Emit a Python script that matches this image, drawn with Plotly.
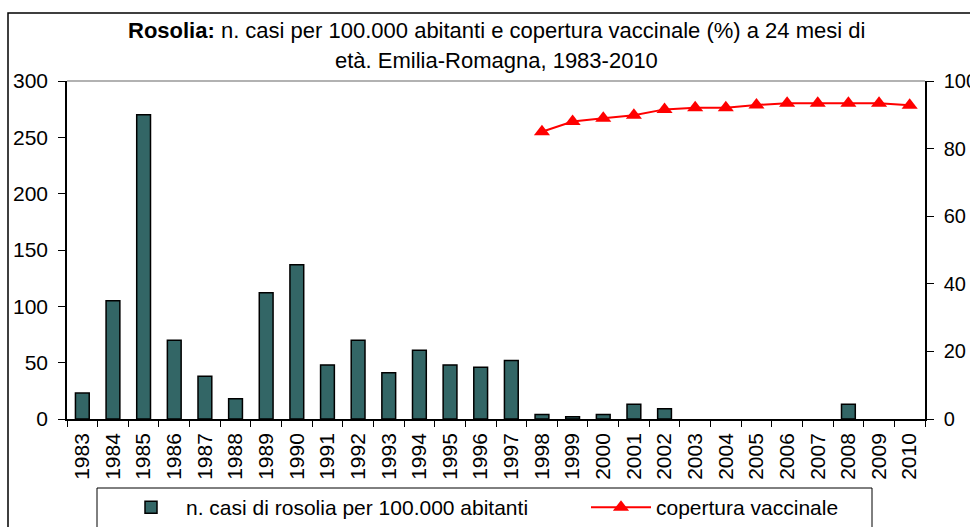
import plotly.graph_objects as go

years = [str(y) for y in range(1983, 2011)]
casi = [23, 105, 270, 70, 38, 18, 112, 137, 48, 70, 41, 61, 48, 46, 52,
        4, 2, 4, 13, 9, 0, 0, 0, 0, 0, 13, 0, 0]
copertura = [None] * 15 + [85, 88, 89, 89.9, 91.6, 92.1, 92.1, 92.9, 93.4, 93.4, 93.4, 93.4, 92.8]

bar_name = "n. casi di rosolia per 100.000 abitanti"
line_name = "copertura vaccinale"
title_line1 = "<b>Rosolia:</b> n. casi per 100.000 abitanti e copertura vaccinale (%) a 24 mesi di"
title_line2 = "età. Emilia-Romagna, 1983-2010"

FONT = "Liberation Sans, Arial, sans-serif"
W, H = 970, 527
L, R, T, B = 67, 45, 81, 108
pw, ph = W - L - R, H - T - B

def px_x(x):
    return (x - L) / pw

def px_y(y):
    return (H - B - y) / ph

fig = go.Figure()
fig.add_trace(go.Bar(
    x=years, y=casi, name=bar_name,
    marker=dict(color="#336666",
                line=dict(color="black", width=[1.5 if v > 0 else 0 for v in casi])),
    yaxis="y", legend="legend",
))
fig.add_trace(go.Scatter(
    x=years, y=copertura, name=line_name, mode="lines+markers",
    line=dict(color="#ff0000", width=2),
    marker=dict(symbol="triangle-up", size=14, color="#ff0000"),
    yaxis="y2", legend="legend2",
))

legend_common = dict(
    orientation="h", xanchor="left", yanchor="top", y=px_y(487),
    bgcolor="rgba(0,0,0,0)", borderwidth=0, font=dict(size=21), itemwidth=60,
)

fig.update_layout(
    width=W, height=H,
    margin=dict(l=L, r=R, t=T, b=B, pad=0, autoexpand=False),
    paper_bgcolor="white", plot_bgcolor="white",
    font=dict(family=FONT, size=20, color="black"),
    bargap=0.55,
    showlegend=True,
    legend=dict(x=px_x(116), **legend_common),
    legend2=dict(x=px_x(586), **legend_common),
    xaxis=dict(
        type="category", range=[-0.5, len(years) - 0.5],
        tickangle=-90, showline=True, linecolor="black", linewidth=1.5,
        ticks="outside", ticklen=6, tickcolor="black", tickson="boundaries",
        showgrid=False, tickfont=dict(size=21), automargin=False, ticklabelstandoff=4,
    ),
    yaxis=dict(
        range=[0, 300], dtick=50, showline=True, linecolor="black", linewidth=1.5,
        ticks="outside", ticklen=7, tickcolor="black", showgrid=False,
        zeroline=False, tickfont=dict(size=21), automargin=False, ticklabelstandoff=6,
    ),
    yaxis2=dict(
        range=[0, 100], dtick=20, overlaying="y", side="right",
        showline=True, linecolor="black", linewidth=1.5,
        ticks="outside", ticklen=7, tickcolor="black", showgrid=False,
        zeroline=False, tickfont=dict(size=20), automargin=False, ticklabelstandoff=6,
    ),
    shapes=[
        dict(type="line", xref="paper", yref="paper", x0=0, x1=1, y0=1, y1=1,
             line=dict(color="#999999", width=1.5)),
        dict(type="rect", xref="paper", yref="paper",
             x0=px_x(8), x1=px_x(1000), y0=px_y(580), y1=px_y(13),
             line=dict(color="black", width=1.5), layer="below"),
        dict(type="rect", xref="paper", yref="paper",
             x0=px_x(97), x1=px_x(872), y0=px_y(580), y1=px_y(488),
             line=dict(color="black", width=1), layer="below"),
    ],
    annotations=[
        dict(text=title_line1, xref="paper", yref="paper", x=0.5, y=px_y(30),
             xanchor="center", yanchor="middle", showarrow=False, font=dict(size=22)),
        dict(text=title_line2, xref="paper", yref="paper", x=0.5, y=px_y(61),
             xanchor="center", yanchor="middle", showarrow=False, font=dict(size=22)),
    ],
)

fig.write_html(
    "out.html",
    config={"displayModeBar": False},
    post_script="document.body.style.margin='0';document.body.style.overflow='hidden';",
)
